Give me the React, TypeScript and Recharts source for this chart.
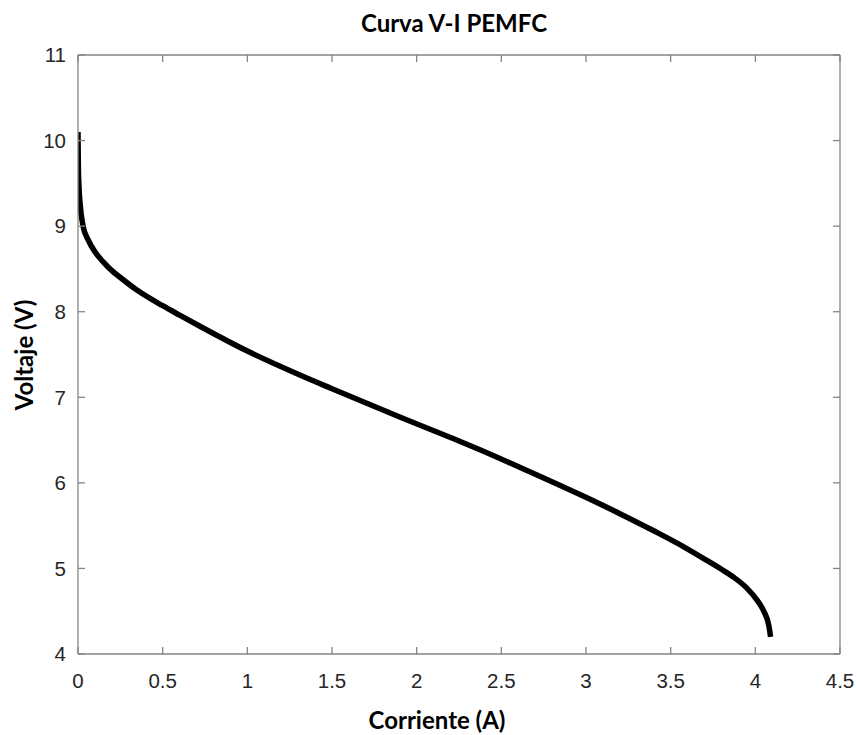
import React from "react";
import { LineChart, Line, XAxis, YAxis } from "recharts";

// corriente (A) and voltaje (V)
const current = [
  0, 0.002, 0.006, 0.012, 0.03, 0.06, 0.1, 0.15, 0.2, 0.25, 0.35, 0.5, 0.6, 0.72,
  1.0, 1.31, 1.5, 1.9, 2.2, 2.37, 2.6, 2.99, 3.2, 3.4, 3.58, 3.7, 3.8, 3.87, 3.95,
  4.01, 4.05, 4.08, 4.09,
];
const voltage = [
  10.1, 9.7, 9.45, 9.27, 9.0, 8.84, 8.7, 8.58, 8.48, 8.4, 8.25, 8.07, 7.96, 7.83,
  7.54, 7.26, 7.1, 6.77, 6.53, 6.39, 6.19, 5.84, 5.64, 5.44, 5.25, 5.11, 4.99, 4.9,
  4.77, 4.63, 4.5, 4.33, 4.2,
];

const xTicks = [0, 0.5, 1, 1.5, 2, 2.5, 3, 3.5, 4, 4.5];
const yTicks = [4, 5, 6, 7, 8, 9, 10, 11];

const title = "Curva V-I PEMFC";
const xLabel = "Corriente (A)";
const yLabel = "Voltaje (V)";

const data = current.map((c, i) => ({ c, v: voltage[i] }));

const AXIS = "#858585";
const TICK_LEN = 7;
const tickText = { fill: "#262626", fontSize: 20.5, fontFamily: "Liberation Sans, Arial, sans-serif" };
const labelFont = { fontFamily: "Lato, sans-serif", fontWeight: 700, fontSize: 24, fill: "#000" };

// inward tick marks, matlab style
const BottomTick = (props: any) => {
  const { x, y, payload } = props;
  return (
    <g>
      <line x1={x} y1={y} x2={x} y2={y - TICK_LEN} stroke={AXIS} strokeWidth={1.3} />
      <text x={x} y={y + 19} dy="0.71em" textAnchor="middle" style={tickText}>
        {payload.value}
      </text>
    </g>
  );
};

const LeftTick = (props: any) => {
  const { x, y, payload } = props;
  return (
    <g>
      <line x1={x} y1={y} x2={x + TICK_LEN} y2={y} stroke={AXIS} strokeWidth={1.3} />
      <text x={x - 12} y={y} dy="0.355em" textAnchor="end" style={tickText}>
        {payload.value}
      </text>
    </g>
  );
};

const TopTick = (props: any) => {
  const { x, y } = props;
  return <line x1={x} y1={y} x2={x} y2={y + TICK_LEN} stroke={AXIS} strokeWidth={1.3} />;
};

const RightTick = (props: any) => {
  const { x, y } = props;
  return <line x1={x} y1={y} x2={x - TICK_LEN} y2={y} stroke={AXIS} strokeWidth={1.3} />;
};

const App: React.FC = () => {
  return (
    <div style={{ position: "absolute", left: 0, top: 0, width: 857, height: 735, background: "#fff" }}>
      <LineChart
        width={857}
        height={735}
        data={data}
        margin={{ top: 54, right: 16, bottom: 0, left: 0 }}
      >
        <XAxis
          dataKey="c"
          type="number"
          domain={[0, 4.5]}
          ticks={xTicks}
          allowDataOverflow
          height={81}
          stroke={AXIS}
          strokeWidth={1.3}
          tickLine={false}
          tickSize={0}
          tickMargin={0}
          tick={<BottomTick />}
        />
        <XAxis
          xAxisId="top"
          orientation="top"
          dataKey="c"
          type="number"
          domain={[0, 4.5]}
          ticks={xTicks}
          allowDataOverflow
          height={1}
          stroke={AXIS}
          strokeWidth={1.3}
          tickLine={false}
          tickSize={0}
          tickMargin={0}
          tick={<TopTick />}
        />
        <YAxis
          type="number"
          domain={[4, 11]}
          ticks={yTicks}
          allowDataOverflow
          width={78}
          stroke={AXIS}
          strokeWidth={1.3}
          tickLine={false}
          tickSize={0}
          tickMargin={0}
          tick={<LeftTick />}
        />
        <YAxis
          yAxisId="right"
          orientation="right"
          type="number"
          domain={[4, 11]}
          ticks={yTicks}
          allowDataOverflow
          width={1}
          stroke={AXIS}
          strokeWidth={1.3}
          tickLine={false}
          tickSize={0}
          tickMargin={0}
          tick={<RightTick />}
        />
        <Line
          dataKey="v"
          type="monotone"
          stroke="#000"
          strokeWidth={5.5}
          dot={false}
          isAnimationActive={false}
        />
      </LineChart>
      <svg
        width={857}
        height={735}
        style={{ position: "absolute", left: 0, top: 0, pointerEvents: "none" }}
      >
        <text x={454} y={31.5} textAnchor="middle" style={labelFont}>
          {title}
        </text>
        <text x={437} y={729} textAnchor="middle" style={labelFont}>
          {xLabel}
        </text>
        <text x={33} y={355} textAnchor="middle" transform="rotate(-90 33 355)" style={labelFont}>
          {yLabel}
        </text>
      </svg>
    </div>
  );
};

export default App;
